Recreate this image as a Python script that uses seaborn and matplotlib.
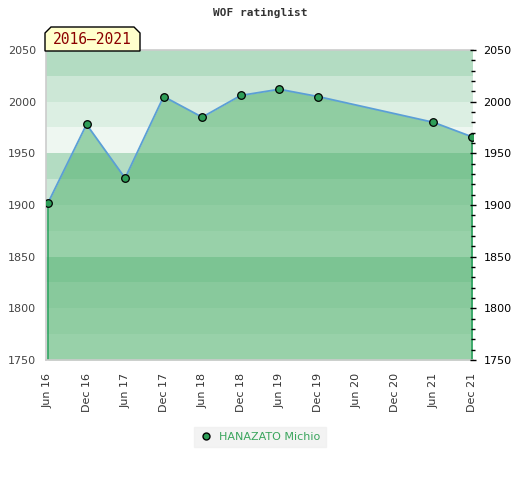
import numpy as np
import pandas as pd
import matplotlib
matplotlib.use("Agg")
import matplotlib.pyplot as plt
from matplotlib.patches import Polygon
from matplotlib.lines import Line2D
import seaborn as sns

# ---- data ----
periods = ["Jun 16", "Dec 16", "Jun 17", "Dec 17", "Jun 18", "Dec 18",
           "Jun 19", "Dec 19", "Jun 20", "Dec 20", "Jun 21", "Dec 21"]
ratings = [1902, 1978, 1926, 2005, 1985, 2006,
           2012, 2005, None, None, 1980, 1966]
player = "HANAZATO Michio"
title = "WOF ratinglist"
period_label = "2016\u20132021"
y_ticks = [1750, 1800, 1850, 1900, 1950, 2000, 2050]

# ---- styling ----
sns.set_style("white")
plt.rcParams["font.family"] = ["DejaVu Sans"]

df = pd.DataFrame({"pos": np.arange(len(periods)), "period": periods,
                   "rating": ratings}).dropna()
df["rating"] = df["rating"].astype(float)

fig = plt.figure(figsize=(5.2, 4.8), dpi=100)
ax = fig.add_axes([46 / 520, 1 - 360 / 480, (473 - 46) / 520, (360 - 50) / 480])

ymin, ymax = 1750, 2050
# background bands (repeat every 100 points, 4 shades)
band_cols = ["#b3dcc2", "#cce7d6", "#dcefe3", "#eef7f1"]
for i, top in enumerate(range(ymax, ymin, -25)):
    ax.axhspan(top - 25, top, color=band_cols[i % 4], lw=0, zorder=0)

fill_col = "#4aae68"
ax.fill_between(df["pos"], df["rating"], ymin, color=fill_col, alpha=0.52,
                lw=0, zorder=1)
ax.vlines([df["pos"].iloc[0], df["pos"].iloc[-1]], ymin,
          [df["rating"].iloc[0], df["rating"].iloc[-1]],
          color="#2ca25f", lw=1.2, zorder=2)

sns.lineplot(data=df, x="pos", y="rating", ax=ax, color="#5b9fd6", lw=1.3,
             zorder=3, legend=False)
sns.scatterplot(data=df, x="pos", y="rating", ax=ax, color="#2e9e58",
                edgecolor="black", linewidth=0.9, s=30, zorder=4, legend=False)

unit = 424 / 11
ax.set_xlim(-2 / unit, 11 + 1 / unit)
ax.set_ylim(ymin, ymax)
ax.set_xticks(np.arange(len(periods)))
ax.set_xticklabels(periods, rotation=90, fontsize=8, color="#333333")
ax.set_yticks(y_ticks)
ax.set_yticklabels([str(v) for v in y_ticks], fontsize=8, color="#444444")
ax.tick_params(axis="x", length=0, pad=9)
ax.tick_params(axis="y", length=0, pad=7)
ax.set_xlabel("")
ax.set_ylabel("")
for s in ["left", "top", "bottom"]:
    ax.spines[s].set_color("#cccccc")
    ax.spines[s].set_linewidth(1.2)
ax.spines["right"].set_visible(False)

# right axis
ax2 = ax.twinx()
ax2.set_ylim(ymin, ymax)
ax2.set_yticks(y_ticks)
ax2.set_yticklabels([str(v) for v in y_ticks], fontsize=8, color="black")
ax2.set_yticks(np.arange(ymin, ymax + 1, 10), minor=True)
ax2.tick_params(axis="y", which="major", direction="inout", length=5,
                width=1, pad=5, color="black")
ax2.tick_params(axis="y", which="minor", direction="inout", length=3.5,
                width=1, color="black")
for s in ax2.spines.values():
    s.set_visible(False)

# title
fig.text(260 / 520, 1 - 13 / 480, title, ha="center", va="center",
         fontsize=8, fontweight="bold", family="DejaVu Sans Mono",
         color="#333333")

# period label box (clipped top corners)
W, H = 520.0, 480.0
pts_px = [(45, 51), (45, 33), (51, 27), (134, 27), (140, 33), (140, 51)]
poly = Polygon([(x / W, 1 - y / H) for x, y in pts_px], closed=True,
               transform=fig.transFigure, facecolor="#ffffcc",
               edgecolor="black", lw=1.0, zorder=5)
fig.patches.append(poly)
fig.text(92 / W, 1 - 40 / H, period_label, ha="center", va="center",
         fontsize=10.5, family="DejaVu Sans Mono", color="#8b0000", zorder=6)

# legend
handle = Line2D([], [], marker="o", ls="none", markerfacecolor="#2e9e58",
                markeredgecolor="black", markersize=5)
leg = fig.legend([handle], [player], loc="center",
                 bbox_to_anchor=(260 / W, 1 - 436.5 / H), frameon=True,
                 fontsize=8, labelcolor="#3aa55d", handletextpad=0.6,
                 borderpad=0.45, fancybox=False, handlelength=1.2)
leg.get_frame().set_facecolor("#f0f0f0")
leg.get_frame().set_edgecolor("#f0f0f0")

fig.savefig("out.png", dpi=100, facecolor="white")
